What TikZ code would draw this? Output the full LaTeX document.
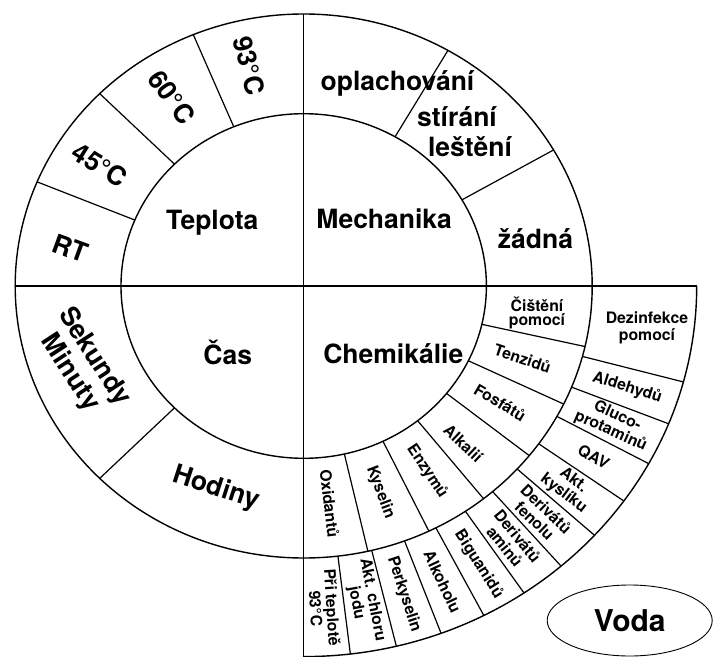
\documentclass[tikz,border=0pt]{standalone}
\usepackage{fontspec}
\setmainfont{TeX Gyre Heros}
\usetikzlibrary{shapes.geometric}
\begin{document}
\begin{tikzpicture}[x=1pt,y=0.943pt,
  ringline/.style={line width=1.4pt,black},
  divline/.style={line width=1.2pt,black},
  biglbl/.style={font=\fontsize{26.5}{29}\selectfont\bfseries,inner sep=0pt},
  smalllbl/.style={font=\fontsize{15.8}{16.5}\selectfont\bfseries,inner sep=0pt,align=center},
]
\useasboundingbox (-303.7pt,-370pt) rectangle (410.3pt,286pt);
\coordinate (O) at (0,0);
% rings
\draw[ringline] (O) ellipse [x radius=182.7pt, y radius=172.3pt];
\draw[ringline] (O) ellipse [x radius=288.5pt, y radius=272pt];
\draw[ringline] (393pt,0pt) arc [start angle=0, end angle=-90, x radius=393pt, y radius=370.6pt];
% axes
\draw[divline] (-288.5pt,0pt) -- (393pt,0pt);
\draw[divline] (0pt,272pt) -- (0pt,-372pt);
% dividers in the first ring
\foreach \a in {112.5,135,157.5,30,60,225}
  \draw[divline] (\a:182.7) -- (\a:288.5);
% dividers in Chemikalie ring
\foreach \i in {1,...,6}{
  \pgfmathsetmacro\a{-\i*90/7}
  \draw[divline] (\a:182.7) -- (\a:288.5);
}
% dividers in the outer ring
\draw[divline] (-15:288.5) -- (-15:393);
\foreach \i in {1,...,10}{
  \pgfmathsetmacro\a{-15-\i*75/11}
  \draw[divline] (\a:288.5) -- (\a:393);
}
% main labels
\node[biglbl,anchor=base] (teplota) at (-91.4pt,56.7pt) {Teplota};
\node[biglbl,anchor=base] (mechanika) at (80.5pt,57.7pt) {Mechanika};
\node[biglbl,anchor=base] (cas) at (-75.9pt,-78pt) {Čas};
\node[biglbl,anchor=base] (chem) at (89.6pt,-77.3pt) {Chemikálie};
% mechanika ring
\node[biglbl,anchor=base] (oplach) at (93.8pt,195.3pt) {oplachování};
\node[biglbl,anchor=base] (stirani) at (153.3pt,159.3pt) {stírání};
\node[biglbl,anchor=base] (lesteni) at (166.3pt,130pt) {leštění};
\node[biglbl,anchor=base] (zadna) at (231.8pt,37.7pt) {žádná};
% teplota ring
\node[biglbl,rotate=-20] (rt) at (-233.7pt,37.7pt) {RT};
\node[biglbl,rotate=-32] (t45) at (-203.7pt,121pt) {45°C};
\node[biglbl,rotate=-54] (t60) at (-132pt,188.7pt) {60°C};
\node[biglbl,rotate=-76] (t93) at (-54.7pt,220.3pt) {93°C};
% cas ring
\node[biglbl,align=center,rotate=-57] (sekmin) at (-221.7pt,-79pt) {Sekundy\\Minuty};
\node[biglbl,rotate=-18] (hodiny) at (-88pt,-202.3pt) {Hodiny};
% chemikalie ring
\node[smalllbl,font=\fontsize{15.8}{14}\selectfont\bfseries] (cisteni) at (233.3pt,-26.5pt) {Čištění\\pomocí};
\node[smalllbl,rotate=-18.3] (tenzidu) at (-19.29:232) {Tenzidů};
\node[smalllbl,rotate=-30.6] (fosfatu) at (-32.14:232) {Fosfátů};
\node[smalllbl,rotate=-43.3] (alkalii) at (-46.3:231) {Alkalií};
\node[smalllbl,rotate=-56.3] (enzymu) at (-57.86:232) {Enzymů};
\node[smalllbl,rotate=-69.6] (kyselin) at (-70.71:232) {Kyselin};
\node[smalllbl,rotate=-83.2] (oxidantu) at (-83.57:232) {Oxidantů};
% outer ring
\node[smalllbl,font=\fontsize{15.8}{17.4}\selectfont\bfseries] (dezinf) at (343.3pt,-41.8pt) {Dezinfekce\\pomocí};
\node[smalllbl,rotate=-17.4] (aldehydu) at (-18.41:341) {Aldehydů};
\node[smalllbl,rotate=-24.0] (gluco) at (-25.23:343) {Gluco-\\protaminů};
\node[smalllbl,rotate=-30.6] (qav) at (-32.05:342) {QAV};
\node[smalllbl,rotate=-37.2] (akt) at (-38.86:340) {Akt.\\kyslíku};
\node[smalllbl,rotate=-44.0] (fenol) at (-45.68:339) {Derivátů\\fenolu};
\node[smalllbl,rotate=-50.9] (amin) at (-52.5:341) {Derivátů\\aminů};
\node[smalllbl,rotate=-57.8] (biguan) at (-59.32:343) {Biguanidů};
\node[smalllbl,rotate=-64.9] (alkohol) at (-66.14:343) {Alkoholu};
\node[smalllbl,rotate=-72.0] (perkys) at (-72.95:342) {Perkyselin};
\node[smalllbl,rotate=-79.2] (chlor) at (-79.77:340) {Akt. chloru\\jodu};
\node[smalllbl,rotate=-86.4] (teplote) at (-86.59:342) {Při teplotě\\93°C};
% voda
\node[draw,ellipse,line width=0.9pt,minimum width=165pt,minimum height=71pt,inner sep=0pt,
      font=\fontsize{30}{30}\selectfont\bfseries] (voda) at (326pt,-334.5pt) {Voda};
\end{tikzpicture}
\end{document}
